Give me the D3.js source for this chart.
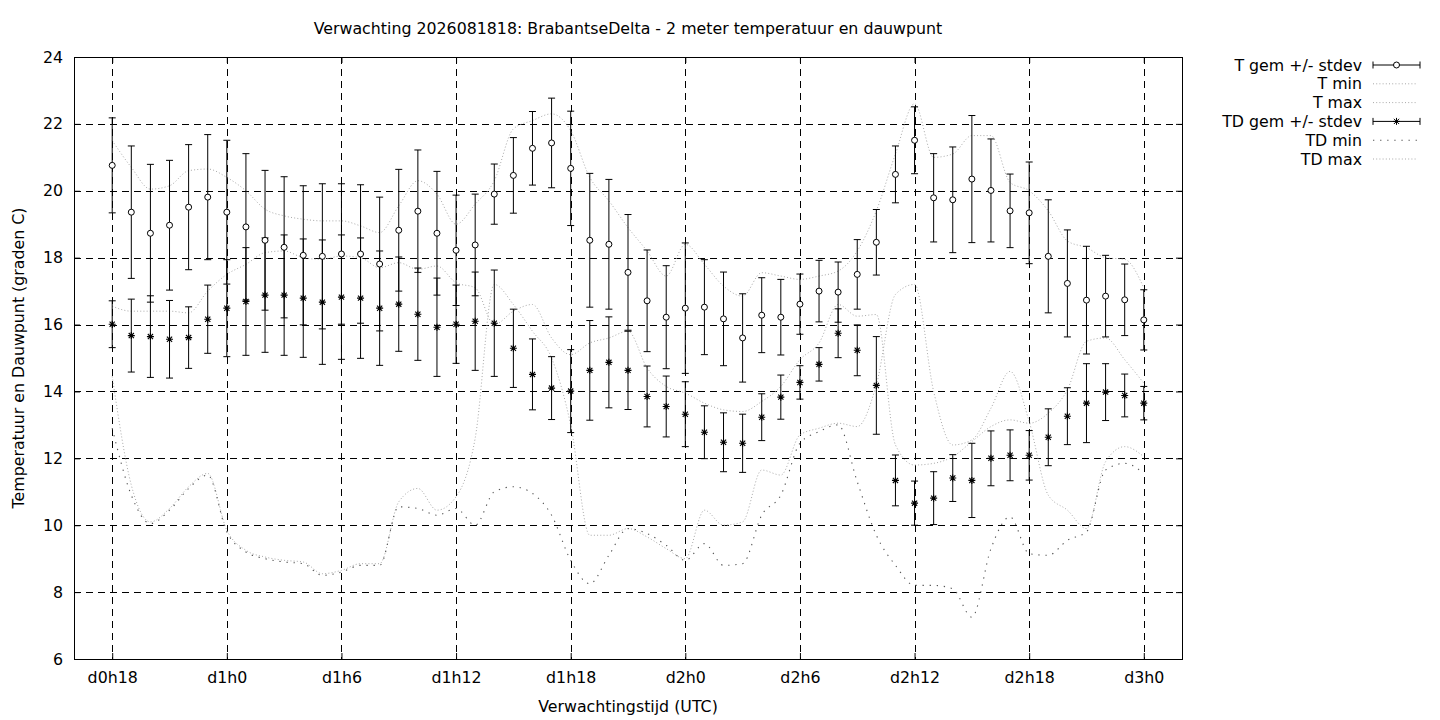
<!DOCTYPE html>
<html>
<head>
<meta charset="utf-8">
<script src="https://cdn.jsdelivr.net/npm/d3@7"></script>
<style>
  body { margin: 0; background: #fff; }
  svg { display: block; font-family: "DejaVu Sans", sans-serif; }
</style>
</head>
<body>
<svg id="chart" width="1440" height="720"></svg>
<script>
// hours since d0h0 (one point per hour)
const hours = [18, 19, 20, 21, 22, 23, 24, 25, 26, 27, 28, 29, 30, 31, 32, 33, 34, 35, 36, 37,
  38, 39, 40, 41, 42, 43, 44, 45, 46, 47, 48, 49, 50, 51, 52, 53, 54, 55, 56, 57,
  58, 59, 60, 61, 62, 63, 64, 65, 66, 67, 68, 69, 70, 71, 72];

const tGem = [20.76, 19.36, 18.73, 18.97, 19.51, 19.81, 19.36, 18.92, 18.52, 18.31,
  18.07, 18.04, 18.11, 18.11, 17.81, 18.82, 19.39, 18.73, 18.22, 18.38,
  19.90, 20.46, 21.27, 21.43, 20.67, 18.52, 18.40, 17.56, 16.71, 16.22,
  16.49, 16.52, 16.17, 15.60, 16.28, 16.22, 16.61, 17.00, 16.97, 17.50,
  18.46, 20.49, 21.51, 19.79, 19.73, 20.35, 20.01, 19.40, 19.34, 18.04,
  17.23, 16.73, 16.85, 16.74, 16.14];
const tStdev = [1.42, 1.98, 2.06, 1.94, 1.87, 1.87, 2.15, 2.19, 2.09, 2.11,
  2.08, 2.17, 2.10, 2.07, 2.00, 1.82, 1.83, 1.85, 1.65, 1.52,
  0.90, 1.13, 1.10, 1.34, 1.71, 2.00, 1.94, 1.73, 1.52, 1.54,
  1.95, 1.42, 1.40, 1.32, 1.12, 1.13, 0.90, 0.92, 0.90, 1.04,
  0.98, 0.85, 1.00, 1.32, 1.58, 1.90, 1.54, 1.10, 1.52, 1.69,
  1.60, 1.61, 1.22, 1.07, 0.90];
const tMin = [14.45, 11.2, 10.1, 10.5, 11.15, 11.55, 9.85, 9.25, 9.05, 8.95,
  8.9, 8.55, 8.65, 8.85, 8.85, 10.7, 11.1, 10.45, 10.85, 12.6,
  17.2, 16.6, 15.8, 15.0, 13.0, 9.7, 9.7, 9.9, 9.65, 9.3,
  9.0, 10.45, 10.0, 10.1, 11.65, 11.5, 12.7, 12.9, 13.05, 12.95,
  14.2, 16.9, 17.2, 14.0, 12.4, 12.55, 13.5, 14.6, 13.1, 10.9,
  10.45, 9.9, 11.9, 12.35, 12.05];
const tMax = [21.5, 20.7, 20.05, 20.15, 20.6, 20.65, 20.4, 20.0, 19.45, 19.25,
  19.15, 19.1, 19.1, 18.95, 18.75, 19.55, 20.3, 19.9, 19.0, 19.6,
  20.3, 21.85, 22.1, 22.3, 21.8, 20.4, 19.7, 18.9, 18.2, 17.45,
  18.4, 17.8, 17.15, 16.85, 17.55, 17.45, 17.35, 17.45, 17.6, 18.2,
  19.4, 21.1, 22.6, 21.0, 21.1, 21.65, 21.65, 20.25, 20.0, 19.4,
  18.5, 18.3, 18.0, 17.95, 17.1];

const tdGem = [16.01, 15.67, 15.64, 15.56, 15.61, 16.16, 16.49, 16.69, 16.88, 16.88,
  16.79, 16.67, 16.82, 16.79, 16.49, 16.61, 16.31, 15.92, 16.01, 16.10,
  16.04, 15.29, 14.51, 14.10, 14.01, 14.63, 14.87, 14.63, 13.85, 13.55,
  13.32, 12.78, 12.48, 12.45, 13.23, 13.83, 14.27, 14.81, 15.74, 15.23,
  14.18, 11.34, 10.66, 10.81, 11.41, 11.34, 12.00, 12.09, 12.09, 12.63,
  13.26, 13.65, 13.98, 13.88, 13.65];
const tdStdev = [0.70, 1.09, 1.22, 1.16, 0.92, 1.02, 1.45, 1.61, 1.71, 1.80,
  1.77, 1.86, 1.86, 1.80, 1.71, 1.41, 1.38, 1.47, 1.17, 1.47,
  1.59, 1.17, 1.06, 0.94, 1.24, 1.49, 1.36, 1.17, 0.91, 0.91,
  0.97, 0.79, 0.88, 0.87, 0.70, 0.66, 0.50, 0.50, 0.73, 0.76,
  1.46, 0.76, 0.66, 0.79, 0.70, 1.11, 0.82, 0.76, 0.74, 0.85,
  0.85, 1.18, 0.85, 0.64, 0.50];
const tdMin = [12.9, 10.9, 10.05, 10.45, 11.1, 11.5, 9.8, 9.2, 9.0, 8.9,
  8.85, 8.5, 8.6, 8.8, 8.8, 10.55, 10.5, 10.3, 10.5, 10.0,
  11.0, 11.15, 10.95, 10.3, 8.95, 8.25, 9.1, 9.9, 9.75, 9.4,
  8.95, 9.45, 8.8, 8.85, 10.3, 10.9, 12.45, 12.8, 13.0, 11.3,
  9.7, 8.8, 8.2, 8.2, 8.1, 7.25, 9.3, 10.25, 9.15, 9.1,
  9.55, 9.8, 11.65, 11.85, 11.55];
const tdMax = [16.55, 16.4, 16.4, 16.4, 16.35, 17.0, 17.5, 17.8, 18.15, 18.2,
  18.0, 17.95, 18.05, 18.0, 17.7, 17.85, 17.65, 17.75, 17.25, 17.1,
  16.0, 16.4, 16.6, 15.6, 15.1, 15.45, 15.6, 15.8, 14.7, 14.15,
  13.95, 13.65, 13.45, 13.4, 13.7, 14.15, 14.95, 15.45, 16.6, 16.25,
  16.3, 12.4, 11.8, 11.85, 12.05, 12.5, 12.95, 13.15, 13.05, 13.35,
  14.05, 15.5, 15.6, 14.95, 14.25];

const xTicks = [18, 24, 30, 36, 42, 48, 54, 60, 66, 72];
const xTickLabels = ["d0h18", "d1h0", "d1h6", "d1h12", "d1h18", "d2h0", "d2h6", "d2h12", "d2h18", "d3h0"];
const yTicks = [6, 8, 10, 12, 14, 16, 18, 20, 22, 24];

const legendLabels = ["T gem +/- stdev", "T min", "T max", "TD gem +/- stdev", "TD min", "TD max"];

const plot = { left: 74, right: 1182, top: 57, bottom: 659 };
const fontSize = "15.8px";

const svg = d3.select("#chart");

const x = d3.scaleLinear().domain([16, 74]).range([plot.left, plot.right]);
const y = d3.scaleLinear().domain([6, 24]).range([plot.bottom, plot.top]);

svg.append("defs").append("clipPath").attr("id", "clip")
  .append("rect")
  .attr("x", plot.left).attr("y", plot.top)
  .attr("width", plot.right - plot.left).attr("height", plot.bottom - plot.top);

// grid
const grid = svg.append("g").attr("stroke", "#000").attr("stroke-width", 1)
  .attr("stroke-dasharray", "7,5").attr("shape-rendering", "crispEdges");
grid.selectAll(".gy").data(yTicks.slice(1, -1)).enter().append("line")
  .attr("x1", plot.left).attr("x2", plot.right)
  .attr("y1", d => Math.round(y(d)) + 0.5).attr("y2", d => Math.round(y(d)) + 0.5);
grid.selectAll(".gx").data(xTicks).enter().append("line")
  .attr("y1", plot.top).attr("y2", plot.bottom)
  .attr("x1", d => Math.round(x(d)) + 0.5).attr("x2", d => Math.round(x(d)) + 0.5);

// axes (ticks inward, mirrored)
const yAxis = d3.axisLeft(y).tickValues(yTicks).tickSize(-6).tickPadding(11);
const xAxis = d3.axisBottom(x).tickValues(xTicks)
  .tickFormat((d, i) => xTickLabels[i]).tickSize(-6).tickPadding(13);

svg.append("g").attr("transform", `translate(${plot.left},0)`).call(yAxis);
svg.append("g").attr("transform", `translate(0,${plot.bottom})`).call(xAxis);
svg.append("g").attr("transform", `translate(${plot.right},0)`)
  .call(d3.axisRight(y).tickValues(yTicks).tickSize(-6).tickFormat(""));
svg.append("g").attr("transform", `translate(0,${plot.top})`)
  .call(d3.axisTop(x).tickValues(xTicks).tickSize(-6).tickFormat(""));

svg.selectAll(".domain").remove();
svg.selectAll(".tick line").attr("stroke", "#000");
svg.selectAll(".tick text").attr("fill", "#000")
  .style("font-size", fontSize).style("font-family", "DejaVu Sans, sans-serif");

// border
svg.append("rect")
  .attr("x", plot.left + 0.5).attr("y", plot.top + 0.5)
  .attr("width", plot.right - plot.left).attr("height", plot.bottom - plot.top)
  .attr("fill", "none").attr("stroke", "#000").attr("stroke-width", 1);

// labels
svg.append("text").attr("x", 628).attr("y", 34).attr("text-anchor", "middle")
  .style("font-size", fontSize)
  .text("Verwachting 2026081818: BrabantseDelta - 2 meter temperatuur en dauwpunt");
svg.append("text").attr("x", 628).attr("y", 712).attr("text-anchor", "middle")
  .style("font-size", fontSize).text("Verwachtingstijd (UTC)");
svg.append("text").attr("transform", "translate(24,358) rotate(-90)").attr("text-anchor", "middle")
  .style("font-size", fontSize).text("Temperatuur en Dauwpunt (graden C)");

// min / max lines
const lineStyles = {
  light: { color: "#a9a9a9", dash: "1,2.2", width: 1 },
  sparse: { color: "#555", dash: "1.3,5.8", width: 1.1 }
};

const line = d3.line()
  .x(d => x(d[0]))
  .y(d => y(d[1]))
  .curve(d3.curveMonotoneX);

const minMax = [
  { values: tMin, style: lineStyles.light },
  { values: tMax, style: lineStyles.light },
  { values: tdMin, style: lineStyles.sparse },
  { values: tdMax, style: lineStyles.light }
];

const lines = svg.append("g").attr("clip-path", "url(#clip)");
minMax.forEach(s => {
  lines.append("path")
    .datum(hours.map((hh, i) => [hh, s.values[i]]))
    .attr("d", line)
    .attr("fill", "none")
    .attr("stroke", s.style.color)
    .attr("stroke-width", s.style.width)
    .attr("stroke-dasharray", s.style.dash);
});

// error bars
const cap = 3.5;
function errorBars(mean, sd) {
  const g = svg.append("g").attr("stroke", "#000").attr("stroke-width", 1);
  const rows = hours.map((hh, i) => ({ h: hh, m: mean[i], s: sd[i] }));
  const bar = g.selectAll("g").data(rows).enter().append("g");
  bar.append("line")
    .attr("x1", d => x(d.h)).attr("x2", d => x(d.h))
    .attr("y1", d => y(d.m - d.s)).attr("y2", d => y(d.m + d.s));
  bar.append("line")
    .attr("x1", d => x(d.h) - cap).attr("x2", d => x(d.h) + cap)
    .attr("y1", d => y(d.m + d.s)).attr("y2", d => y(d.m + d.s));
  bar.append("line")
    .attr("x1", d => x(d.h) - cap).attr("x2", d => x(d.h) + cap)
    .attr("y1", d => y(d.m - d.s)).attr("y2", d => y(d.m - d.s));
  return rows;
}

const starPath = "M-3.5,0H3.5M0,-3.5V3.5M-2.6,-2.6L2.6,2.6M-2.6,2.6L2.6,-2.6";

const tRows = errorBars(tGem, tStdev);
const tdRows = errorBars(tdGem, tdStdev);

svg.append("g").selectAll("circle").data(tRows).enter().append("circle")
  .attr("cx", d => x(d.h)).attr("cy", d => y(d.m)).attr("r", 3)
  .attr("fill", "#fff").attr("stroke", "#000").attr("stroke-width", 1);

svg.append("g").selectAll("path").data(tdRows).enter().append("path")
  .attr("transform", d => `translate(${x(d.h)},${y(d.m)})`)
  .attr("d", starPath).attr("stroke", "#000").attr("stroke-width", 1.1);

// legend
const legend = svg.append("g");
const lx0 = 1373, lx1 = 1420, ly0 = 65, ldy = 18.8;
legendLabels.forEach((lab, i) => {
  const ly = ly0 + i * ldy;
  legend.append("text").attr("x", 1362).attr("y", ly).attr("dy", "0.35em")
    .attr("text-anchor", "end").style("font-size", fontSize).text(lab);
  if (i === 0 || i === 3) {
    const g = legend.append("g").attr("stroke", "#000").attr("stroke-width", 1);
    g.append("line").attr("x1", lx0).attr("x2", lx1).attr("y1", ly).attr("y2", ly);
    g.append("line").attr("x1", lx0).attr("x2", lx0).attr("y1", ly - cap).attr("y2", ly + cap);
    g.append("line").attr("x1", lx1).attr("x2", lx1).attr("y1", ly - cap).attr("y2", ly + cap);
    const cx = (lx0 + lx1) / 2;
    if (i === 0) {
      g.append("circle").attr("cx", cx).attr("cy", ly).attr("r", 3).attr("fill", "#fff");
    } else {
      g.append("path").attr("transform", `translate(${cx},${ly})`).attr("d", starPath);
    }
  } else {
    const st = i === 4 ? lineStyles.sparse : lineStyles.light;
    legend.append("line").attr("x1", lx0).attr("x2", lx1 - 3).attr("y1", ly).attr("y2", ly)
      .attr("stroke", st.color).attr("stroke-width", st.width).attr("stroke-dasharray", st.dash);
  }
});
</script>
</body>
</html>
